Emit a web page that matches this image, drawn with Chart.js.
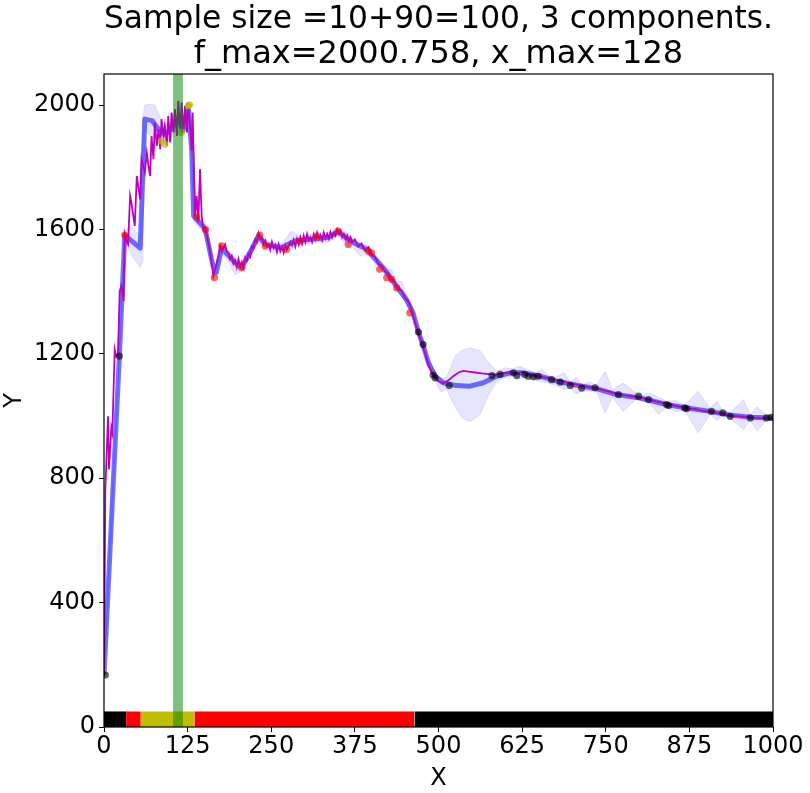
<!DOCTYPE html>
<html>
<head>
<meta charset="utf-8">
<script src="https://cdn.jsdelivr.net/npm/chart.js@4/dist/chart.umd.min.js"></script>
<style>
  body { margin: 0; background: #fff; }
</style>
</head>
<body>
<canvas id="chart" width="810" height="793"></canvas>
<script>
// axis ticks
var xTicks = [0, 125, 250, 375, 500, 625, 750, 875, 1000];
var yTicks = [0, 400, 800, 1200, 1600, 2000];

// true function (magenta), in three pieces
var fXa = [0, 2, 6, 7.5, 11, 12.5, 16, 18, 21, 23.4, 26, 29.4, 31, 34, 36, 39, 41, 46, 49, 54, 56, 61, 64, 66.5, 69, 71, 74, 76, 79, 81.5, 84, 86, 89, 91, 94, 96, 99, 101, 104, 106, 109, 111, 114, 116, 119, 121, 124, 126, 129, 131, 132.5, 136, 138.5, 141, 143.5, 146, 148.5, 151, 156, 161, 163.5, 166, 168.5, 171, 173.5, 176];
var fYa = [162, 763, 999, 828, 962, 946, 1214, 1193, 1198, 1402, 1418, 1370, 1585, 1560, 1552, 1708, 1686, 1611, 1772, 1697, 1826, 1783, 1847, 1804, 1772, 1900, 1826, 1944, 1869, 1922, 1858, 1955, 1900, 1933, 1869, 1965, 1880, 1976, 1912, 1987, 1901, 2014, 1922, 2008, 1912, 1998, 1912, 2008, 1922, 1853, 1976, 1643, 1708, 1622, 1794, 1643, 1600, 1606, 1558, 1493, 1450, 1470, 1493, 1515, 1547, 1530];
var fXb = [181, 183.5, 186, 188.5, 191, 193.5, 196, 198.5, 201, 203.5, 206, 208.5, 211, 213.5, 216, 218.5, 221, 223.5, 226, 228.5, 231, 233.5, 236, 238.5, 241, 243.5, 246, 248.5, 251, 253.5, 256, 258.5, 261, 263.5, 266, 268.5, 271, 273.5, 276, 278.5, 281, 283.5, 286, 288.5, 291, 293.5, 296, 298.5, 301, 303.5, 306, 308.5, 311, 313.5, 316, 318.5, 321, 323.5, 326, 328.5, 331, 333.5, 336, 338.5, 341, 343.5, 346, 348.5, 351, 353.5, 356, 358.5, 361, 363.5, 366, 368.5, 371];
var fYb = [1552, 1530, 1525, 1505, 1515, 1490, 1500, 1478, 1505, 1482, 1495, 1478, 1510, 1500, 1522, 1512, 1545, 1540, 1568, 1560, 1588, 1570, 1575, 1555, 1565, 1545, 1552, 1535, 1560, 1540, 1550, 1528, 1552, 1530, 1545, 1525, 1550, 1535, 1547, 1560, 1548, 1566, 1545, 1570, 1552, 1575, 1555, 1580, 1560, 1585, 1565, 1575, 1560, 1585, 1568, 1590, 1570, 1582, 1565, 1590, 1572, 1586, 1570, 1592, 1575, 1590, 1580, 1600, 1585, 1595, 1575, 1585, 1568, 1580, 1562, 1575, 1558];
var fXc = [375, 380, 385, 390, 395, 400, 405, 410, 415, 420, 425, 430, 435, 440, 445, 450, 455, 460, 465, 470, 475, 480, 485, 490, 495, 500, 507, 515, 522, 530, 537, 545, 555, 565, 575, 585, 595, 605, 615, 625, 635, 645, 655, 665, 675, 685, 695, 705, 715, 725, 735, 745, 755, 765, 775, 785, 795, 805, 815, 825, 835, 845, 855, 865, 875, 885, 895, 905, 915, 925, 935, 945, 955, 965, 975, 985, 1000];
var fYc = [1568, 1545, 1555, 1532, 1543, 1518, 1512, 1490, 1484, 1465, 1458, 1440, 1430, 1410, 1403, 1380, 1368, 1340, 1300, 1265, 1235, 1200, 1165, 1140, 1125, 1112, 1105, 1115, 1128, 1140, 1145, 1143, 1140, 1137, 1135, 1133, 1137, 1140, 1138, 1142, 1135, 1130, 1126, 1122, 1116, 1113, 1105, 1102, 1097, 1093, 1090, 1084, 1079, 1072, 1068, 1065, 1062, 1058, 1053, 1047, 1042, 1039, 1032, 1029, 1024, 1022, 1016, 1014, 1010, 1007, 1002, 1000, 998, 996, 994, 993, 992];

// model mean (blue)
var mX = [0, 23, 31, 54, 61, 72, 81, 91, 101, 111, 118, 126, 131, 134, 151, 163, 168, 176, 196, 206, 218, 231, 241, 266, 285, 305, 335, 350, 373, 393, 408, 423, 437, 452, 462, 470, 477, 485, 495, 507, 527, 547, 567, 587, 607, 627, 652, 677, 707, 736, 766, 801, 841, 871, 906, 936, 966, 1000];
var mY = [167, 1193, 1582, 1540, 1955, 1950, 1923, 1906, 1923, 1960, 1917, 1998, 1858, 1643, 1603, 1482, 1462, 1541, 1493, 1478, 1525, 1579, 1552, 1541, 1563, 1568, 1574, 1593, 1557, 1536, 1499, 1461, 1418, 1375, 1332, 1270, 1228, 1171, 1128, 1107, 1098, 1096, 1107, 1128, 1139, 1139, 1128, 1112, 1099, 1088, 1069, 1058, 1037, 1026, 1015, 1003, 996, 994];

// confidence band
var bX = [0, 12, 23, 31, 40, 54, 58, 61, 68, 76, 86, 96, 106, 116, 126, 131, 134, 151, 157, 163, 168, 176, 186, 196, 206, 218, 231, 241, 250, 266, 280, 292, 305, 320, 335, 350, 362, 373, 383, 393, 408, 423, 430, 437, 445, 452, 462, 470, 477, 485, 495, 503, 512, 525, 535, 547, 562, 575, 587, 600, 612, 622, 632, 645, 655, 665, 675, 688, 697, 706, 714, 725, 736, 749, 760, 776, 795, 805, 816, 829, 841, 855, 868, 888, 906, 916, 925, 936, 956, 966, 976, 990, 1000];
var bLo = [160, 650, 1180, 1570, 1520, 1478, 1500, 1920, 1905, 1880, 1870, 1880, 1920, 1900, 1985, 1840, 1625, 1585, 1530, 1465, 1445, 1525, 1495, 1455, 1465, 1508, 1565, 1538, 1525, 1527, 1548, 1550, 1555, 1560, 1560, 1580, 1550, 1540, 1515, 1522, 1485, 1447, 1430, 1404, 1385, 1360, 1318, 1258, 1215, 1155, 1112, 1078, 1085, 1030, 995, 982, 1004, 1069, 1110, 1125, 1128, 1120, 1125, 1115, 1110, 1105, 1098, 1085, 1088, 1070, 1080, 1080, 1078, 1010, 1060, 1015, 1053, 1050, 1040, 1005, 1027, 1015, 1018, 946, 1005, 985, 1002, 992, 957, 988, 951, 985, 984];
var bHi = [175, 760, 1205, 1595, 1610, 1580, 1960, 2000, 2003, 2000, 1950, 1935, 1975, 1935, 2010, 1875, 1660, 1620, 1570, 1500, 1480, 1555, 1530, 1510, 1492, 1540, 1594, 1566, 1560, 1556, 1595, 1580, 1582, 1590, 1590, 1607, 1590, 1570, 1555, 1550, 1512, 1475, 1470, 1435, 1432, 1390, 1346, 1282, 1242, 1185, 1142, 1120, 1125, 1193, 1212, 1220, 1210, 1171, 1145, 1155, 1152, 1160, 1150, 1140, 1150, 1130, 1125, 1140, 1110, 1125, 1100, 1110, 1100, 1144, 1085, 1106, 1075, 1068, 1074, 1060, 1048, 1050, 1035, 1080, 1025, 1048, 1018, 1012, 1053, 1004, 1030, 1003, 1004];

// samples: 0 = black, 1 = red, 2 = yellow
var sX = [2, 23, 31, 86, 91, 116, 126, 128, 138.5, 152, 165, 176, 206, 233, 241, 273, 293, 318, 350, 365, 395, 400, 412, 422.5, 430, 437.5, 457, 470, 477, 492, 495, 516, 580, 592, 612, 617, 629, 634, 642, 649, 669, 682, 697, 714, 734, 769, 799, 814, 841, 844, 868, 871, 908, 925, 936, 966, 990, 997];
var sY = [167, 1193, 1582, 1885, 1874, 1912, 1998, 2000, 1640, 1600, 1445, 1547, 1477, 1582, 1547, 1536, 1563, 1579, 1595, 1552, 1531, 1525, 1472, 1445, 1440, 1412, 1332, 1270, 1230, 1132, 1123, 1098, 1130, 1134, 1139, 1130, 1134, 1128, 1126, 1128, 1117, 1109, 1098, 1090, 1091, 1069, 1064, 1053, 1037, 1034, 1026, 1024, 1015, 1010, 999, 994, 994, 996];
var sCat = [0, 0, 1, 2, 2, 2, 2, 2, 1, 1, 1, 1, 1, 1, 1, 1, 1, 1, 1, 1, 1, 1, 1, 1, 1, 1, 1, 0, 0, 0, 0, 0, 0, 0, 0, 0, 0, 0, 0, 0, 0, 0, 0, 0, 0, 0, 0, 0, 0, 0, 0, 0, 0, 0, 0, 0, 0, 0];

// region bar at the bottom
var barEdges = [0, 33, 55, 135, 464, 1000];
var barCat = [0, 1, 2, 1, 0];
var barTop = 50;

// highlighted x_max span
var greenSpan = [103.3, 118];
var yMax = 2100;

var catColors = ["rgba(0,0,0,0.6)", "rgba(255,0,0,0.6)", "rgba(191,191,0,0.7)"];
var barColors = ["#000000", "#ff0000", "#bfbf00"];

function pts(xs, ys) {
  return xs.map(function (x, i) { return { x: x, y: ys[i] }; });
}

var datasets = [];

datasets.push({
  data: [{ x: greenSpan[0], y: yMax }, { x: greenSpan[1], y: yMax }],
  fill: "origin",
  backgroundColor: "rgba(0,128,0,0.5)",
  borderWidth: 0,
  pointRadius: 0,
  order: 0,
});

for (var i = 0; i < barCat.length; i++) {
  datasets.push({
    data: [{ x: barEdges[i], y: barTop }, { x: barEdges[i + 1], y: barTop }],
    fill: "origin",
    backgroundColor: barColors[barCat[i]],
    borderWidth: 0,
    pointRadius: 0,
    order: 1,
  });
}

datasets.push({
  data: pts(sX, sY),
  showLine: false,
  pointRadius: 3.6,
  pointBorderWidth: 0,
  pointBackgroundColor: sCat.map(function (c) { return catColors[c]; }),
  pointBorderColor: sCat.map(function (c) { return catColors[c]; }),
  order: 2,
});

datasets.push({
  data: pts(fXa, fYa).concat(pts(fXb, fYb), pts(fXc, fYc)),
  borderColor: "#bf00bf",
  borderWidth: 1.8,
  pointRadius: 0,
  fill: false,
  order: 3,
});

datasets.push({
  data: pts(mX, mY),
  borderColor: "rgba(0,0,255,0.55)",
  borderWidth: 5,
  borderJoinStyle: "round",
  pointRadius: 0,
  fill: false,
  order: 4,
});

// band: upper fills down to the next dataset (lower)
datasets.push({
  data: pts(bX, bHi),
  borderColor: "rgba(0,0,255,0.1)",
  borderWidth: 1,
  backgroundColor: "rgba(0,0,255,0.1)",
  pointRadius: 0,
  fill: "+1",
  order: 5,
});
datasets.push({
  data: pts(bX, bLo),
  borderColor: "rgba(0,0,255,0.1)",
  borderWidth: 1,
  pointRadius: 0,
  fill: false,
  order: 5,
});

var frame = {
  id: "frame",
  afterDraw: function (chart) {
    var a = chart.chartArea, c = chart.ctx;
    c.save();
    c.strokeStyle = "#000";
    c.lineWidth = 1.2;
    c.strokeRect(a.left, a.top, a.right - a.left, a.bottom - a.top);
    c.restore();
  },
};

var tickFont = { family: "DejaVu Sans", size: 24 };
var plain = function (v) { return String(v); };

new Chart(document.getElementById("chart").getContext("2d"), {
  type: "line",
  data: { datasets: datasets },
  plugins: [frame],
  options: {
    responsive: false,
    animation: false,
    layout: { padding: { left: 0, right: 37, top: 0, bottom: 0 } },
    plugins: {
      legend: { display: false },
      tooltip: { enabled: false },
      title: {
        display: true,
        fullSize: false,
        text: ["Sample size =10+90=100, 3 components.", "f_max=2000.758, x_max=128"],
        color: "#000",
        font: { family: "DejaVu Sans", size: 32, weight: "normal", lineHeight: 1.1 },
        padding: { top: 2, bottom: 1.6 },
      },
    },
    scales: {
      x: {
        type: "linear",
        min: 0,
        max: 1000,
        afterBuildTicks: function (scale) {
          scale.ticks = xTicks.map(function (v) { return { value: v }; });
        },
        afterFit: function (scale) { scale.height = 66; },
        grid: { display: true, drawOnChartArea: false, drawTicks: true, tickLength: 5, color: "#000" },
        border: { display: false },
        ticks: { color: "#000", font: tickFont, padding: 0, maxRotation: 0, autoSkip: false, callback: plain },
        title: { display: true, text: "X", color: "#000", font: tickFont, padding: { top: 8, bottom: 0 } },
      },
      y: {
        type: "linear",
        min: 0,
        max: yMax,
        afterBuildTicks: function (scale) {
          scale.ticks = yTicks.map(function (v) { return { value: v }; });
        },
        afterFit: function (scale) { scale.width = 104; },
        grid: { display: true, drawOnChartArea: false, drawTicks: true, tickLength: 5, color: "#000" },
        border: { display: false },
        ticks: { color: "#000", font: tickFont, padding: 4, autoSkip: false, callback: plain },
        title: { display: true, text: "Y", color: "#000", font: tickFont, padding: 0 },
      },
    },
  },
});
</script>
</body>
</html>
